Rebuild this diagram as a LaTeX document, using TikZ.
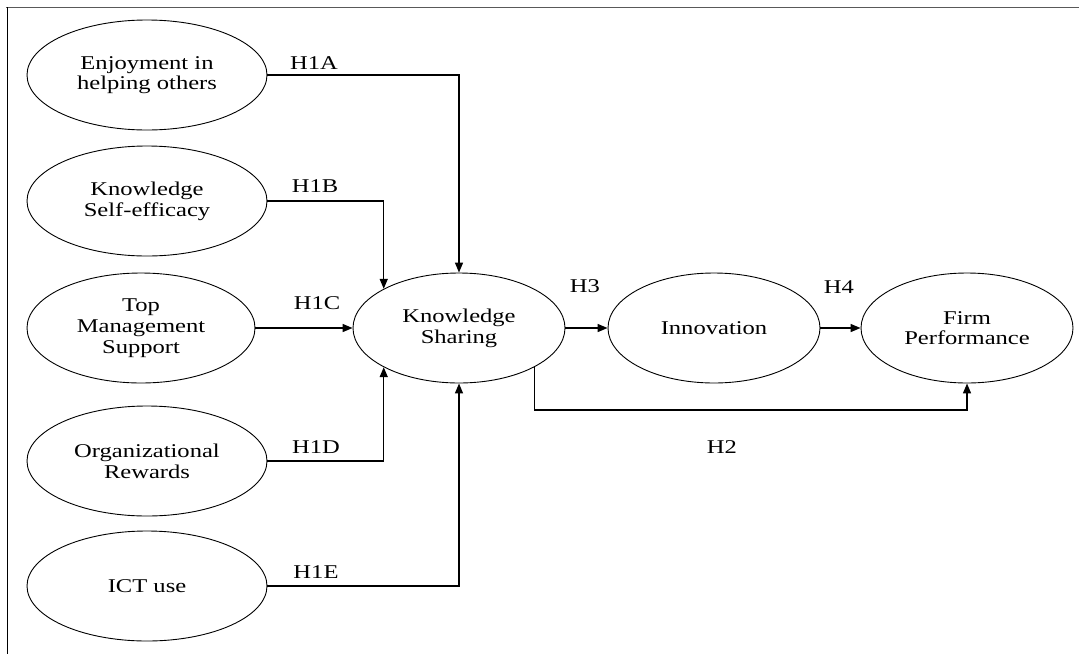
\documentclass[tikz,border=0pt]{standalone}
\usepackage{fontspec}
\setmainfont{Liberation Serif}[FakeStretch=1.26]
\usetikzlibrary{arrows.meta}
\usetikzlibrary{shapes.geometric}

\begin{document}
\begin{tikzpicture}[
        x=1pt, y=-1pt,
        font=\fontsize{19.5}{20.7}\selectfont,
        construct/.style={ellipse, draw, line width=0.9pt, inner sep=0pt,
            minimum width=240pt, minimum height=110pt, align=center},
        outcome/.style={construct, minimum width=212pt},
        link/.style={-{Triangle[length=10pt, width=8pt]}, line width=1.5pt},
        hyp/.style={inner sep=0pt}
    ]
        \useasboundingbox (0,0) rectangle (1079,654);

        % --- Marco (solo arriba e izquierda) ---
        \draw[line width=1pt, black!65] (6,7) -- (1079,7);
        \draw[line width=1pt] (7,7) -- (7,654);

        % --- Variables independientes ---
        \node[construct] (enjoy) at (147,75) {Enjoyment in\\helping others};
        \node[construct] (efficacy) at (147,201) {Knowledge\\Self-efficacy};
        \node[construct, minimum width=228pt] (topmgmt) at (141,328) {Top\\Management\\Support};
        \node[construct] (rewards) at (147,461) {Organizational\\Rewards};
        \node[construct] (ict) at (147,586) {ICT use};

        % --- Mediadora y dependientes ---
        \node[outcome] (share) at (459,328) {Knowledge\\Sharing};
        \node[outcome] (innov) at (714,328) {Innovation};
        \node[outcome] (perf) at (967,328) {Firm\\Performance};

        % --- Hipotesis H1 ---
        \draw[link] (enjoy.east) -| (share.north);
        \draw[link] (efficacy.east) -| (share.north west);
        \draw[link] (topmgmt.east) -- (share.west);
        \draw[link] (rewards.east) -| (share.south west);
        \draw[link] (ict.east) -| (share.south);

        % --- H2, H3, H4 ---
        \draw[link] (share.east) -- (innov.west);
        \draw[link] (innov.east) -- (perf.west);
        \draw[link] (share.south east) -- ++(0,43) -| (perf.south);

        % Etiquetas
        \node[hyp] (h1a) at (314,63) {H1A};
        \node[hyp] (h1b) at (315,186) {H1B};
        \node[hyp] (h1c) at (317,303) {H1C};
        \node[hyp] (h1d) at (316,447) {H1D};
        \node[hyp] (h1e) at (316,572) {H1E};
        \node[hyp] (h3) at (585,286) {H3};
        \node[hyp] (h4) at (839,287) {H4};
        \node[hyp] (h2) at (722,447) {H2};

    \end{tikzpicture}
\end{document}
